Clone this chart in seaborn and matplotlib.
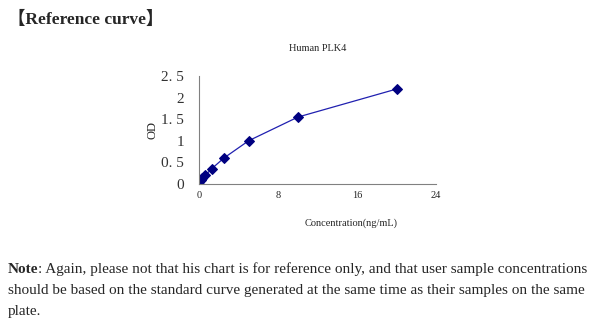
import matplotlib
matplotlib.use("Agg")
import matplotlib.pyplot as plt
import seaborn as sns
import pandas as pd

concentration = [0, 0.156, 0.312, 0.625, 1.25, 2.5, 5, 10, 20]
od = [0.05, 0.09, 0.13, 0.2, 0.35, 0.6, 1.0, 1.55, 2.2]
x_ticks = [0, 8, 16, 24]
y_ticks = [0, 0.5, 1, 1.5, 2, 2.5]
y_tick_labels = ["0", "0. 5", "1", "1. 5", "2", "2. 5"]

sns.set_style("white")
plt.rcParams["font.family"] = ["Liberation Serif", "DejaVu Serif"]

df = pd.DataFrame({"Concentration": concentration, "OD": od})

fig = plt.figure(figsize=(6, 3.25), dpi=100)
ax = fig.add_axes([0.332, 0.434, 0.395, 0.332])

sns.lineplot(data=df, x="Concentration", y="OD", ax=ax, color="#2020b0",
             linewidth=0.9, marker="D", markersize=5.2, markeredgecolor="#000080",
             markerfacecolor="#000080")

ax.set_xlim(0, 24)
ax.set_ylim(0, 2.5)
ax.set_xticks(x_ticks)
ax.set_xticklabels([str(t) for t in x_ticks], fontsize=7.5)
ax.set_yticks(y_ticks)
ax.set_yticklabels(y_tick_labels, fontsize=11, color="#333333")
for s in ["top", "right"]:
    ax.spines[s].set_visible(False)
for s in ["left", "bottom"]:
    ax.spines[s].set_color("#808080")
    ax.spines[s].set_linewidth(0.8)
ax.tick_params(axis="both", direction="in", length=4, width=0.8, color="#808080")
ax.tick_params(axis="x", pad=5)
ax.tick_params(axis="y", pad=11)

ax.set_xlabel("Concentration(ng/mL)", fontsize=7.5)
ax.xaxis.set_label_coords(0.64, -0.32)
ax.set_ylabel("OD", fontsize=9)
ax.yaxis.set_label_coords(-0.17, 0.5)
ax.set_title("Human PLK4", fontsize=7.5, pad=18)

fig.text(0.013, 0.94, "【Reference curve】", fontsize=12.5, fontweight="bold",
         va="center", ha="left",
         family=["Liberation Serif", "Noto Sans CJK SC"])

t1 = fig.text(0.013, 0.16, "Note", fontsize=11, fontweight="bold", va="baseline")
ax.annotate(": Again, please not that his chart is for reference only, and that user sample concentrations",
            xy=(1, 0), xycoords=t1, va="bottom", ha="left", fontsize=11,
            annotation_clip=False)
fig.text(0.013, 0.096, "should be based on the standard curve generated at the same time as their samples on the same",
         fontsize=11, va="baseline")
fig.text(0.013, 0.03, "plate.", fontsize=11, va="baseline")

fig.savefig("out.png", dpi=100)
